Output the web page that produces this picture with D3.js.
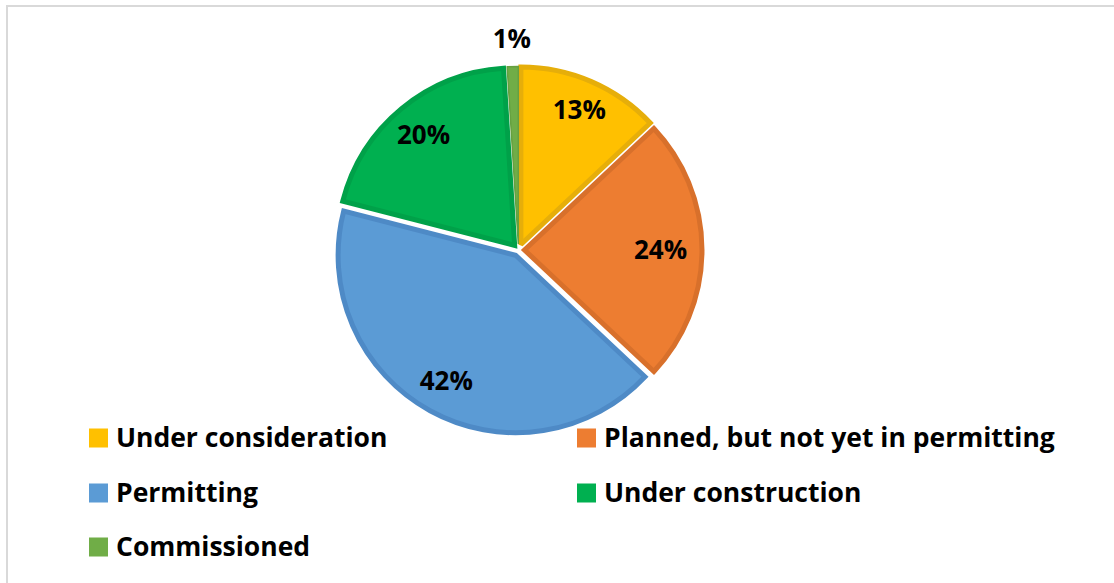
<!DOCTYPE html>
<html>
<head>
<meta charset="utf-8">
<script src="https://cdn.jsdelivr.net/npm/d3@7"></script>
<style>
  html, body { margin: 0; padding: 0; background: #fff; }
  svg { display: block; }
</style>
</head>
<body>
<svg id="chart" width="1114" height="583"></svg>
<script>
// Project status shares (percent)
const categories = [
  "Under consideration",
  "Planned, but not yet in permitting",
  "Permitting",
  "Under construction",
  "Commissioned"
];
const values = [13, 24, 42, 20, 1];
const fills = ["#FFC000", "#ED7D31", "#5B9BD5", "#00B050", "#70AD47"];
const strokes = ["#E6AE0A", "#D8702B", "#4E8AC6", "#00A149", "#66A040"];

const W = 1114, H = 583;
const svg = d3.select("#chart");

// outer frame
svg.append("rect")
  .attr("x", 7).attr("y", 6)
  .attr("width", W + 20).attr("height", H + 20)
  .attr("fill", "none")
  .attr("stroke", "#d9d9d9")
  .attr("stroke-width", 2);

const cx = 518.5, cy = 250;
const R = 180;          // outer radius of each slice
const explode = 6;      // offset of each slice from the centre
const borderW = 5;
// distance of each percentage label from the centre (slice order)
const labelDist = [153, 142, 150, 149, 211];

const data = categories.map((c, i) => ({ name: c, value: values[i], fill: fills[i], stroke: strokes[i] }));

const pie = d3.pie().value(d => d.value).sort(null);
const arcs = pie(data);

const arc = d3.arc().innerRadius(0).outerRadius(R - borderW / 2);

const g = svg.append("g").attr("transform", `translate(${cx},${cy})`);

const mid = a => (a.startAngle + a.endAngle) / 2;
const dirX = a => Math.sin(mid(a));
const dirY = a => -Math.cos(mid(a));

g.selectAll("path.slice")
  .data(arcs)
  .join("path")
  .attr("class", "slice")
  .attr("transform", a => `translate(${dirX(a) * explode},${dirY(a) * explode})`)
  .attr("d", arc)
  .attr("fill", a => a.data.fill)
  .attr("stroke", a => a.data.stroke)
  .attr("stroke-width", a => a.data.value < 3 ? 1.5 : borderW)
  .attr("stroke-linejoin", "miter")
  .attr("stroke-miterlimit", 2);

const labelFont = "'Open Sans', 'Liberation Sans', sans-serif";

g.selectAll("text.pct")
  .data(arcs)
  .join("text")
  .attr("class", "pct")
  .attr("x", (a, i) => dirX(a) * labelDist[i])
  .attr("y", (a, i) => dirY(a) * labelDist[i] - 1)
  .attr("text-anchor", "middle")
  .attr("dominant-baseline", "central")
  .attr("font-family", labelFont)
  .attr("font-weight", "bold")
  .attr("font-size", 26)
  .attr("fill", "#000")
  .text(a => a.data.value + "%");

// legend: two columns, rows filled left to right
const colX = [89, 577];
const rowY = [447, 502, 556];
const sw = 19;

const legend = svg.append("g");
const items = legend.selectAll("g.item")
  .data(data)
  .join("g")
  .attr("class", "item")
  .attr("transform", (d, i) => `translate(${colX[i % 2]},${rowY[Math.floor(i / 2)]})`);

items.append("rect")
  .attr("x", 0).attr("y", -18.5)
  .attr("width", sw).attr("height", sw)
  .attr("fill", d => d.fill);

items.append("text")
  .attr("x", 27).attr("y", 0)
  .attr("font-family", labelFont)
  .attr("font-weight", "bold")
  .attr("font-size", 26.5)
  .attr("fill", "#000")
  .text(d => d.name);
</script>
</body>
</html>
